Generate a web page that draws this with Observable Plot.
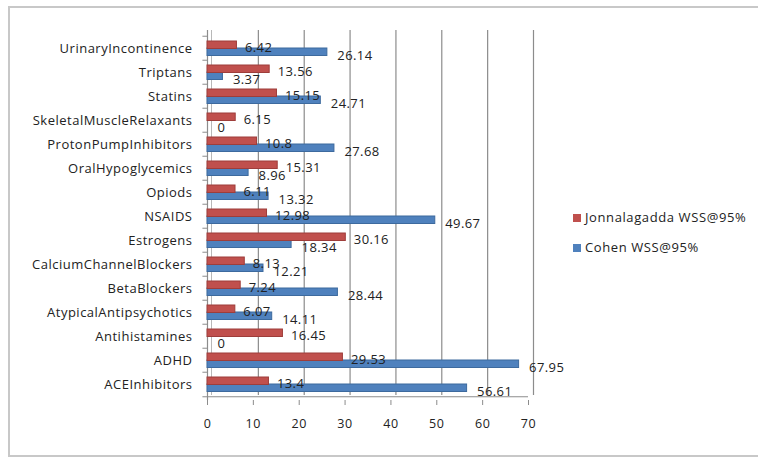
<!DOCTYPE html>
<html>
<head>
<meta charset="utf-8">
<script src="https://cdn.jsdelivr.net/npm/d3@7"></script>
<script src="https://cdn.jsdelivr.net/npm/@observablehq/plot@0.6"></script>
<style>
  html, body { margin: 0; padding: 0; background: #fff; }
  #wrap { position: relative; width: 758px; height: 460px; overflow: hidden; font-family: "Open Sans", sans-serif; }
  #border { position: absolute; left: 8px; top: 6px; width: 760px; height: 451px; border: 2px solid #c8c8c8; box-sizing: border-box; }
  #chart { position: absolute; left: 0; top: 0; }
  .legend { position: absolute; left: 573px; font-size: 13px; letter-spacing: 0.6px; color: #222; white-space: nowrap; }
  .legend span.sw { display: inline-block; width: 8px; height: 8px; margin-right: 4px; vertical-align: 0px; }
</style>
</head>
<body>
<div id="wrap">
  <div id="border"></div>
  <div id="chart"></div>
  <div class="legend" style="top:208px"><span class="sw" style="background:#C0504D"></span>Jonnalagadda WSS@95%</div>
  <div class="legend" style="top:238px"><span class="sw" style="background:#4F81BD"></span>Cohen WSS@95%</div>
</div>
<script>
const categories = ["UrinaryIncontinence","Triptans","Statins","SkeletalMuscleRelaxants","ProtonPumpInhibitors","OralHypoglycemics","Opiods","NSAIDS","Estrogens","CalciumChannelBlockers","BetaBlockers","AtypicalAntipsychotics","Antihistamines","ADHD","ACEInhibitors"];
const jonnalagadda = [6.42,13.56,15.15,6.15,10.8,15.31,6.11,12.98,30.16,8.13,7.24,6.07,16.45,29.53,13.4];
const cohen = [26.14,3.37,24.71,0,27.68,8.96,13.32,49.67,18.34,12.21,28.44,14.11,0,67.95,56.61];
const xTicks = [0,10,20,30,40,50,60,70];

const W = 758, H = 460, mT = 32, mB = 60, mL = 207, mR = 230;
const bw = (H - mT - mB) / categories.length;

const red = categories.map((c, i) => ({cat: c, v: jonnalagadda[i]}));
const blue = categories.map((c, i) => ({cat: c, v: cohen[i]}));

const chart = Plot.plot({
  width: W, height: H,
  marginTop: mT, marginBottom: mB, marginLeft: mL, marginRight: mR,
  style: {fontFamily: "Open Sans, sans-serif", fontSize: "12px", color: "#222", background: "transparent"},
  x: {domain: [0, 70], ticks: xTicks},
  y: {domain: categories, padding: 0},
  marks: [
    // back wall gridlines
    Plot.ruleX(xTicks.slice(1), {dx: 5, insetTop: -2, insetBottom: 5, stroke: "#8c8c8c", strokeWidth: 1.2}),
    // left wall
    Plot.ruleX([0], {insetTop: -2, stroke: "#8c8c8c", strokeWidth: 1.2}),
    Plot.ruleX([0], {dx: 4, insetTop: -2, insetBottom: 5, stroke: "#b8b8b8"}),
    // floor front edge
    Plot.ruleY([categories[categories.length - 1]], {dy: bw / 2, x1: 0, x2: 70, stroke: "#8c8c8c", strokeWidth: 1.2}),
    // x tick marks on floor
    Plot.ruleX(xTicks, {insetTop: H - mT - mB, insetBottom: -5, stroke: "#8c8c8c"}),
    // category tick marks on left axis (band boundaries)
    Plot.ruleY(categories, {dy: -bw / 2, x1: -1, x2: 0, stroke: "#8c8c8c"}),
    Plot.ruleY([categories[categories.length - 1]], {dy: bw / 2, x1: -1, x2: 0, stroke: "#8c8c8c"}),
    // bars
    Plot.barX(blue, {y: "cat", x: "v", fill: "#4F81BD", stroke: "#3D6A9E", strokeWidth: 1, insetTop: 12, insetBottom: 4.5}),
    Plot.barX(red, {y: "cat", x: "v", fill: "#C0504D", stroke: "#9E3D3A", strokeWidth: 1, insetTop: 5, insetBottom: 11.5}),
    // labels
    Plot.text(red, {y: "cat", x: "v", text: d => String(d.v), textAnchor: "start", dx: 8, dy: -1, fill: "#222", fontSize: 13, style: "letter-spacing:0.4px"}),
    Plot.text(blue, {y: "cat", x: "v", text: d => String(d.v), textAnchor: "start", dx: 10, dy: 7, fill: "#222", fontSize: 13, style: "letter-spacing:0.4px"}),
    // axes
    Plot.axisX(xTicks, {tickSize: 0, tickPadding: 19, label: null, fontSize: 12.5, fill: "#222"}),
    Plot.axisY({tickSize: 0, tickPadding: 15, label: null, fontSize: 13, fill: "#222"})
  ]
});
chart.querySelectorAll("g[aria-label='y-axis tick label'] text, g[aria-label='y-axis tick label']").forEach(e => e.style.letterSpacing = "0.5px");
chart.querySelectorAll("g[aria-label='text'] text").forEach(e => e.style.letterSpacing = "0.4px");
chart.querySelectorAll("g[aria-label='x-axis tick label']").forEach(e => e.style.letterSpacing = "0.6px");
document.getElementById("chart").appendChild(chart);
</script>
</body>
</html>
